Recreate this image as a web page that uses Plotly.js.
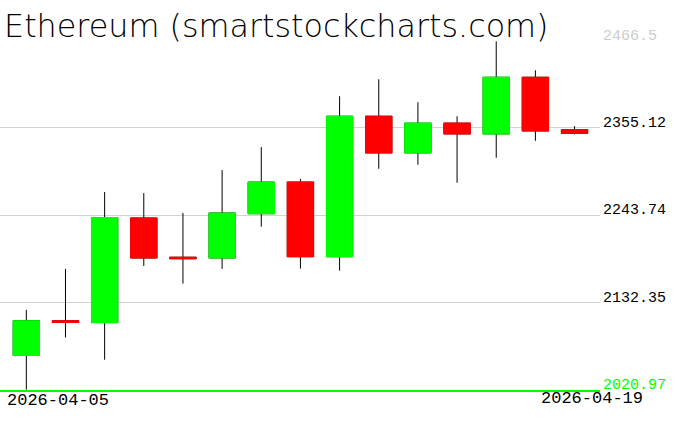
<!DOCTYPE html>
<html>
<head>
<meta charset="utf-8">
<script src="https://cdn.plot.ly/plotly-3.0.1.min.js"></script>
<style>html,body{margin:0;padding:0;background:#fff;}#chart{width:676px;height:431px;}</style>
</head>
<body>
<div id="chart"></div>
<script>
const dates = ['2026-04-05','2026-04-06','2026-04-07','2026-04-08','2026-04-09','2026-04-10','2026-04-11','2026-04-12','2026-04-13','2026-04-14','2026-04-15','2026-04-16','2026-04-17','2026-04-18','2026-04-19'];
const openVals  = [2064.6, 2108.8, 2106.6, 2239.9, 2189.9, 2189.0, 2245.4, 2285.7, 2190.6, 2369.7, 2323.0, 2360.8, 2347.2, 2419.4, 2352.3];
const highVals  = [2122.8, 2175.0, 2273.0, 2271.7, 2246.3, 2301.0, 2330.3, 2289.6, 2395.2, 2416.8, 2387.6, 2369.7, 2465.2, 2428.3, 2357.0];
const lowVals   = [2020.97, 2087.5, 2059.2, 2178.8, 2156.3, 2175.0, 2228.8, 2175.4, 2172.8, 2302.7, 2307.8, 2284.8, 2316.7, 2338.3, 2346.8];
const closeVals = [2108.8, 2106.9, 2240.3, 2189.0, 2188.0, 2246.3, 2285.7, 2190.6, 2369.7, 2323.0, 2360.8, 2347.2, 2419.4, 2351.0, 2348.1];
const yTicks = [2020.97, 2132.35, 2243.74, 2355.12, 2466.5];
const yTickColors = ['#00ff00', '#000000', '#000000', '#000000', '#cccccc'];
const xLabels = ['2026-04-05', '2026-04-19'];
const titleText = 'Ethereum (smartstockcharts.com)';

const bodyHigh = openVals.map((o, i) => Math.max(o, closeVals[i]));
const bodyLow = openVals.map((o, i) => Math.min(o, closeVals[i]));

const wicks = {
  type: 'candlestick', x: dates, open: openVals, high: highVals, low: lowVals, close: closeVals,
  increasing: {line: {color: '#000000', width: 1}, fillcolor: '#000000'},
  decreasing: {line: {color: '#000000', width: 1}, fillcolor: '#000000'},
  whiskerwidth: 0, hoverinfo: 'skip', showlegend: false
};
const bodies = {
  type: 'candlestick', x: dates, open: openVals, high: bodyHigh, low: bodyLow, close: closeVals,
  increasing: {line: {color: '#00ff00', width: 1.2}, fillcolor: '#00ff00'},
  decreasing: {line: {color: '#ff0000', width: 1.2}, fillcolor: '#ff0000'},
  whiskerwidth: 0, hoverinfo: 'skip', showlegend: false
};

const layout = {
  width: 676, height: 431,
  margin: {l: 0, r: 76, t: 40, b: 41, pad: 0},
  paper_bgcolor: '#ffffff', plot_bgcolor: '#ffffff',
  showlegend: false,
  boxgap: 0.33, boxgroupgap: 0,
  title: {
    text: titleText, x: 0.006, xanchor: 'left', xref: 'container',
    y: 0.94, yanchor: 'middle', yref: 'container',
    font: {family: 'DejaVu Sans ExtraLight, DejaVu Sans', size: 31.8, color: '#000000', weight: 200}
  },
  xaxis: {
    type: 'category', range: [-0.672, 14.65], fixedrange: true,
    showticklabels: false, showgrid: false, zeroline: false, ticks: '',
    showline: true, linecolor: '#00ff00', linewidth: 1.5,
    rangeslider: {visible: false}
  },
  yaxis: {
    side: 'right', range: [2020.6, 2466.9], fixedrange: true,
    tickmode: 'array', tickvals: yTicks,
    ticktext: yTicks.map((v, i) => '<span style="color:' + yTickColors[i] + '">' + v + '</span>'),
    ticklabelshift: -6, ticklabelstandoff: 2,
    tickfont: {family: 'Liberation Mono', size: 15, color: '#000000'},
    ticks: '', showgrid: true, gridcolor: '#d3d3d3', gridwidth: 1,
    zeroline: false, showline: false
  },
  annotations: [
    {text: xLabels[0], xref: 'paper', yref: 'paper', x: 5/600, y: -10.5/350, xanchor: 'left', yanchor: 'middle', showarrow: false,
     font: {family: 'Liberation Mono', size: 17, color: '#000000'}},
    {text: xLabels[1], xref: 'paper', yref: 'paper', x: 645/600, y: -8/350, xanchor: 'right', yanchor: 'middle', showarrow: false,
     font: {family: 'Liberation Mono', size: 17, color: '#000000'}}
  ]
};

Plotly.newPlot('chart', [wicks, bodies], layout, {displayModeBar: false, staticPlot: true});
</script>
</body>
</html>
